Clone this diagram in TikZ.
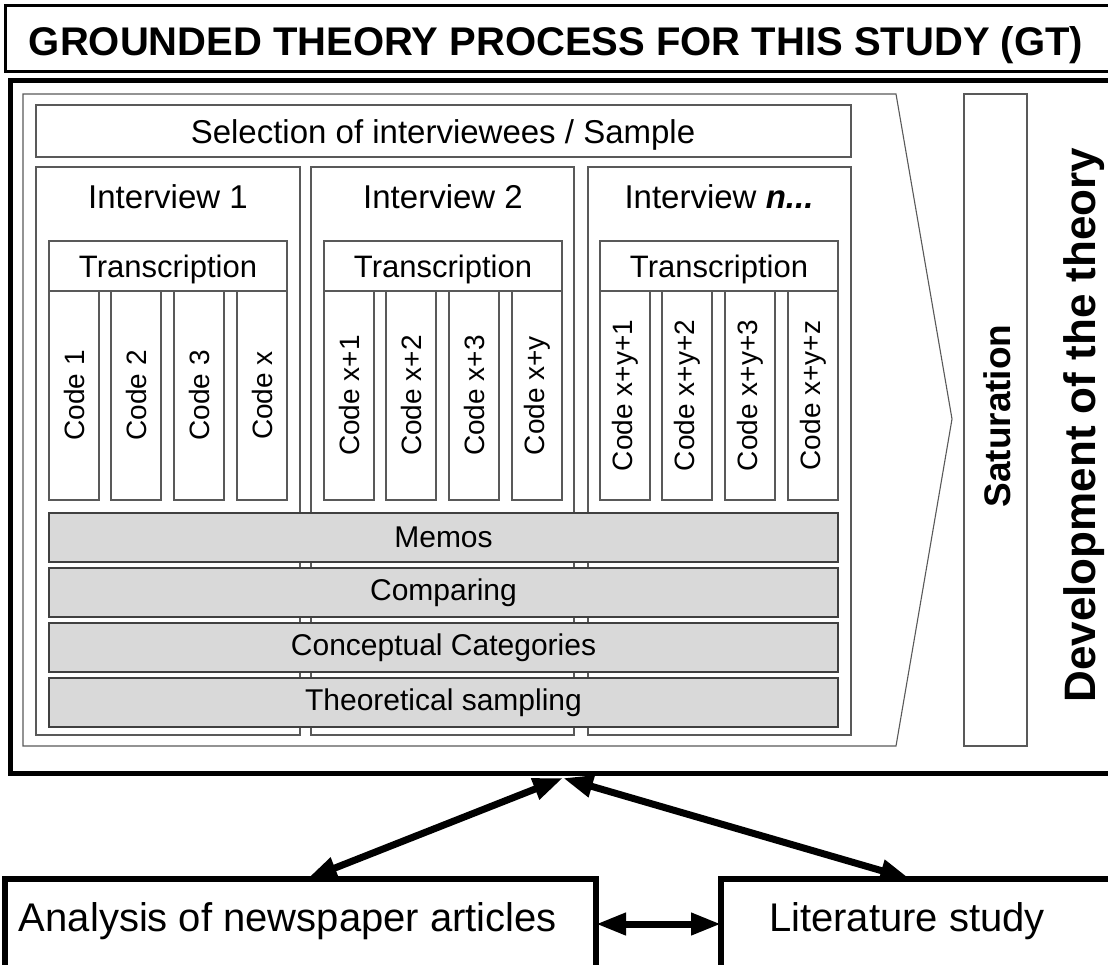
\documentclass[tikz,border=0pt]{standalone}
\usepackage{fontspec}
\setmainfont{Liberation Sans}
\usetikzlibrary{arrows.meta,calc}

\begin{document}
\begin{tikzpicture}[x=1pt,y=-1pt,
every node/.style={inner sep=0pt,outer sep=0pt},
thinbox/.style={draw=black!65,line width=1.1pt},
intbox/.style={thinbox,anchor=north west,minimum width=264pt,minimum height=568pt},
transbox/.style={thinbox,anchor=north west,minimum width=238pt,minimum height=50pt},
codebox/.style={thinbox,anchor=north west,minimum width=50pt,minimum height=209pt,font=\fontsize{28}{30}\selectfont},
graybar/.style={draw=black!75,line width=2pt,fill=black!15,anchor=north west,minimum width=789pt,minimum height=49pt,font=\fontsize{30}{32}\selectfont},
heavybox/.style={draw=black,line width=6pt,anchor=north west,minimum height=90pt},
bigarrow/.style={line width=7pt,arrows={Triangle[length=30pt,width=21pt]-Triangle[length=30pt,width=21pt]}}]
\useasboundingbox (0,0) rectangle (1108,964);

% frames
\node[draw=black,line width=3pt,anchor=north west,minimum width=1120pt,minimum height=66pt] (title) at (5,5) {};
\node[anchor=base,font=\fontsize{40}{44}\selectfont\bfseries] (titletext) at (556,55) {GROUNDED THEORY PROCESS FOR THIS STUDY (GT)};
\node[draw=black,line width=5pt,anchor=north west,minimum width=1120pt,minimum height=693pt] (frame) at (10,80) {};

% process arrow
\draw[thinbox] (23,94) -- (896,94) -- (952,419) -- (896,746) -- (23,746) -- cycle;

\node[thinbox,anchor=north west,minimum width=815pt,minimum height=52pt] (sel) at (36,105) {};
\node[anchor=base,font=\fontsize{33}{36}\selectfont] at (443,143) {Selection of interviewees / Sample};

\node[intbox] (int1) at (36,167) {};
\node[intbox,minimum width=263pt] (int2) at (311,167) {};
\node[intbox,minimum width=263pt] (int3) at (588,167) {};
\node[anchor=base,font=\fontsize{33}{36}\selectfont] at (168,208) {Interview 1};
\node[anchor=base,font=\fontsize{33}{36}\selectfont] at (443,208) {Interview 2};
\node[anchor=base,font=\fontsize{33}{36}\selectfont] at (719,208) {Interview \textbf{\textit{n...}}};

\node[transbox] (tr1) at (49,241) {};
\node[transbox] (tr2) at (324,241) {};
\node[transbox] (tr3) at (600,241) {};
\node[anchor=base,font=\fontsize{31}{34}\selectfont] at (168,277) {Transcription};
\node[anchor=base,font=\fontsize{31}{34}\selectfont] at (443,277) {Transcription};
\node[anchor=base,font=\fontsize{31}{34}\selectfont] at (719,277) {Transcription};

\node[codebox] (c11) at (49,291) {\rotatebox{90}{Code 1}};
\node[codebox] (c12) at (111,291) {\rotatebox{90}{Code 2}};
\node[codebox] (c13) at (174,291) {\rotatebox{90}{Code 3}};
\node[codebox] (c14) at (237,291) {\rotatebox{90}{Code x}};
\node[codebox] (c21) at (324,291) {\rotatebox{90}{Code x+1}};
\node[codebox] (c22) at (386,291) {\rotatebox{90}{Code x+2}};
\node[codebox] (c23) at (449,291) {\rotatebox{90}{Code x+3}};
\node[codebox] (c24) at (512,291) {\rotatebox{90}{Code x+y}};
\node[codebox] (c31) at (600,291) {\rotatebox{90}{Code x+y+1}};
\node[codebox] (c32) at (662,291) {\rotatebox{90}{Code x+y+2}};
\node[codebox] (c33) at (725,291) {\rotatebox{90}{Code x+y+3}};
\node[codebox] (c34) at (788,291) {\rotatebox{90}{Code x+y+z}};

\node[graybar] (memos) at (49,513) {Memos};
\node[graybar] (comparing) at (49,568) {Comparing};
\node[graybar] (categories) at (49,623) {Conceptual Categories};
\node[graybar] (sampling) at (49,678) {Theoretical sampling};

% right side
\node[thinbox,anchor=north west,minimum width=63pt,minimum height=652pt] (sat) at (964,94) {};
\node[anchor=base,rotate=90,font=\fontsize{37}{40}\selectfont\bfseries] at (1010,416) {Saturation};
\node[anchor=base,rotate=90,font=\fontsize{44}{48}\selectfont\bfseries] at (1095,425) {Development of the theory};

% sources
\node[heavybox,minimum width=591pt] (analysis) at (5,879) {};
\node[font=\fontsize{40}{44}\selectfont] at (288,921) {Analysis of newspaper articles};
\node[heavybox,minimum width=400pt] (literature) at (721,879) {};
\node[font=\fontsize{40}{44}\selectfont] at (907,921) {Literature study};

\coordinate (apex) at (563,778);
\draw[bigarrow] (apex) -- ($(analysis.north west)!0.511!(analysis.north east)$);
\draw[bigarrow] (apex) -- ($(literature.north west)!0.473!(literature.north east)$);
\draw[bigarrow] (analysis.east) -- (literature.west);
\end{tikzpicture}
\end{document}
